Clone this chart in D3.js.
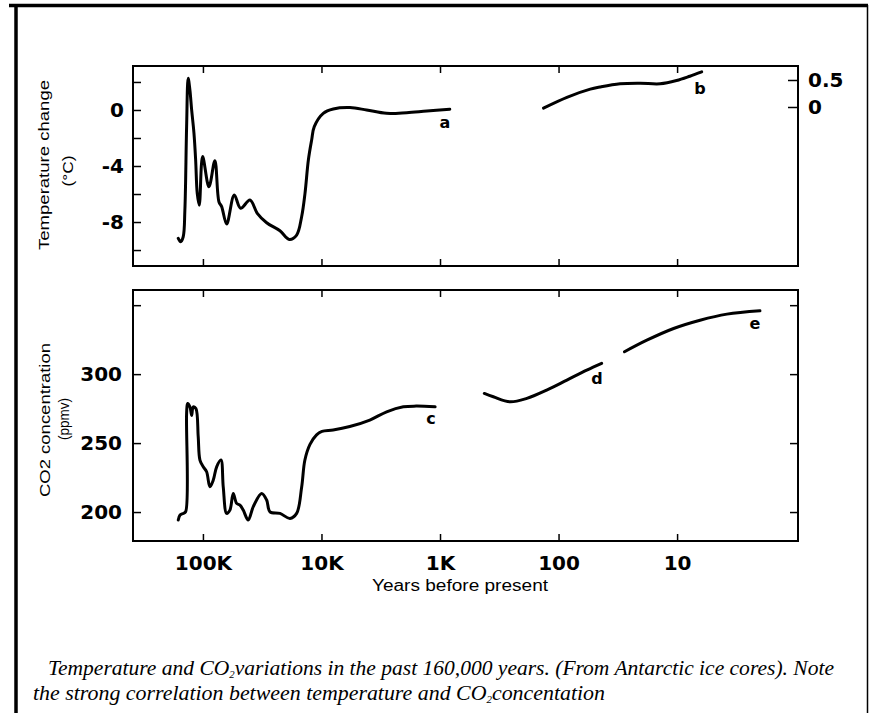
<!DOCTYPE html>
<html>
<head>
<meta charset="utf-8">
<script src="https://cdn.jsdelivr.net/npm/d3@7"></script>
<style>
  body { margin: 0; background: #fff; }
</style>
</head>
<body>
<div id="chart"></div>
<script>
// temperature, ice core (curve a), degrees C vs years before present
const tempYears = [161500, 154200, 146700, 142000, 137300, 133200, 128800, 124500, 119100, 115200, 111700, 107400,
    100600, 89000, 79300, 73300, 69500, 63100, 54400, 48100, 40100, 34800, 29000, 22400, 18700, 16200, 14700,
    13770, 12900, 12100, 11500, 9660, 7950, 5750, 4160, 2830, 1910, 1290, 827];
const tempValues = [-9.16, -9.4, -9.05, -7.14, -1.19, 2.26, 1.43, 0, -1.64, -3.57, -5.95, -6.8,
    -3.33, -5.48, -3.62, -6.55, -6.9, -8.14, -6.07, -7.02, -6.43, -7.38, -8.05, -8.62, -9.24, -8.93, -7.62,
    -5.95, -3.57, -2.14, -1.19, -0.24, 0.07, 0.17, 0, -0.24, -0.19, -0.07, 0.05];

// recent temperature (curve b), right hand scale
const recentTempYears = [134, 85, 54, 44.7, 30.3, 20.5, 13.9, 10.1, 7.8, 6.2];
const recentTempValues = [-0.02, 0.18, 0.33, 0.37, 0.43, 0.44, 0.43, 0.49, 0.57, 0.65];

// CO2 ice core (curve c), ppmv
const co2Years = [161500, 156000, 146700, 140000, 137300, 134700, 128700, 124500, 120700, 114600, 109600, 106000,
    99400, 93100, 87300, 81900, 76600, 70500, 67400, 63100, 59200, 55500, 51980, 48700, 45700, 41500, 37600,
    32000, 29000, 27200, 22400, 18450, 16200, 14700, 13800, 12500, 11000, 9900, 7970, 5770, 3910, 2820, 2040,
    1590, 1100];
const co2Values = [194.2, 197.8, 199, 200.2, 271.5, 278.7, 276.3, 270, 276.3, 275, 254.6, 237.7,
    232.8, 229.2, 218.3, 223, 232.8, 237.7, 218.3, 199, 201.4, 213.5, 206.3, 205, 201.4, 194.2, 203.9,
    213.5, 208.7, 200.2, 199, 195.4, 199, 218, 237.7, 249, 256, 258.5, 259.5, 262, 266.7, 272.7, 276.3,
    276.8, 276.3];

// CO2 historical (curve d) and atmospheric (curve e)
const co2dYears = [423, 355, 257, 185, 126, 85, 57.8, 43.3];
const co2dValues = [286, 283.6, 279.9, 282.4, 288.4, 295.7, 302.9, 307.8];
const co2eYears = [27.8, 18.0, 10.7, 6.4, 3.8, 2.0];
const co2eValues = [316.2, 324.6, 333.1, 339.1, 343.5, 345.9];

// axis ticks
const yearTicks = [100000, 10000, 1000, 100, 10];
const yearTickLabels = ["100K", "10K", "1K", "100", "10"];
const tempTicks = [2, 0, -2, -4, -6, -8, -10];
const tempTickLabels = [0, -4, -8];
const recentTempTicks = [0.5, 0];
const co2Ticks = [200, 250, 300, 350];
const co2TickLabels = [200, 250, 300];

// curve letters: [letter, years, value]
const topLetters = [["a", 908, -0.86]];
const topRightLetters = [["b", 6.4, 0.35]];
const bottomLetters = [["c", 1190, 268], ["d", 47.3, 297], ["e", 2.2, 337]];

const width = 869, height = 713;
const plotLeft = 133, plotRight = 798;
const topPanel = {top: 66, height: 200};
const botPanel = {top: 290, height: 251};
const sans = "'Liberation Sans', Arial, sans-serif";
const tickFont = "'DejaVu Sans', Verdana, sans-serif";
const serif = "'Liberation Serif'";

const svg = d3.select("#chart").append("svg")
    .attr("width", width)
    .attr("height", height)
    .style("font-family", sans);

// page frame
svg.append("line").attr("x1", 9).attr("x2", 868).attr("y1", 5.5).attr("y2", 5.5)
    .attr("stroke", "#000").attr("stroke-width", 3.5);
svg.append("line").attr("x1", 16).attr("x2", 16).attr("y1", 5).attr("y2", height)
    .attr("stroke", "#000").attr("stroke-width", 3.5);
svg.append("line").attr("x1", 867.5).attr("x2", 867.5).attr("y1", 5).attr("y2", height)
    .attr("stroke", "#000").attr("stroke-width", 1.5);

const x = d3.scaleLog()
    .domain([389000, 0.955])
    .range([plotLeft, plotRight]);

const yTemp = d3.scaleLinear()
    .domain([-11.14, 3.14])
    .range([topPanel.top + topPanel.height, topPanel.top]);
const yRecent = d3.scaleLinear()
    .domain([-2.944, 0.759])
    .range([topPanel.top + topPanel.height, topPanel.top]);
const yCo2 = d3.scaleLinear()
    .domain([179, 361])
    .range([botPanel.top + botPanel.height, botPanel.top]);

function drawPanel(p) {
    svg.append("rect")
        .attr("x", plotLeft).attr("y", p.top)
        .attr("width", plotRight - plotLeft).attr("height", p.height)
        .attr("fill", "none").attr("stroke", "#000").attr("stroke-width", 2);
    // year ticks on top and bottom edges, pointing inward
    svg.append("g")
        .attr("transform", `translate(0,${p.top})`)
        .call(d3.axisTop(x).tickValues(yearTicks).tickSize(-7).tickFormat(""))
        .call(g => g.select(".domain").remove())
        .call(g => g.selectAll("line").attr("stroke-width", 1.5));
    svg.append("g")
        .attr("transform", `translate(0,${p.top + p.height})`)
        .call(d3.axisBottom(x).tickValues(yearTicks).tickSize(-7).tickFormat(""))
        .call(g => g.select(".domain").remove())
        .call(g => g.selectAll("line").attr("stroke-width", 1.5));
}
drawPanel(topPanel);
drawPanel(botPanel);

function styleTicks(g, size) {
    g.select(".domain").remove();
    g.selectAll("line").attr("stroke-width", 1.5);
    g.selectAll("text")
        .style("font-family", tickFont)
        .style("font-size", size + "px")
        .style("font-weight", "bold")
        .attr("fill", "#000");
}

// temperature axis (left)
svg.append("g")
    .attr("transform", `translate(${plotLeft},0)`)
    .call(d3.axisLeft(yTemp).tickValues(tempTicks).tickSize(-8).tickPadding(9)
        .tickFormat(d => tempTickLabels.includes(d) ? (d < 0 ? "-" + Math.abs(d) : d) : ""))
    .call(g => styleTicks(g, 20));

// recent temperature axis (right)
svg.append("g")
    .attr("transform", `translate(${plotRight},0)`)
    .call(d3.axisRight(yRecent).tickValues(recentTempTicks).tickSize(-10).tickPadding(10)
        .tickFormat(d => d))
    .call(g => styleTicks(g, 20));

// CO2 axes
svg.append("g")
    .attr("transform", `translate(${plotLeft},0)`)
    .call(d3.axisLeft(yCo2).tickValues(co2Ticks).tickSize(-8).tickPadding(11)
        .tickFormat(d => co2TickLabels.includes(d) ? d : ""))
    .call(g => styleTicks(g, 20));
svg.append("g")
    .attr("transform", `translate(${plotRight},0)`)
    .call(d3.axisRight(yCo2).tickValues(co2Ticks).tickSize(-8).tickFormat(""))
    .call(g => styleTicks(g, 20));

// year labels under the bottom panel
svg.append("g")
    .attr("transform", `translate(0,${botPanel.top + botPanel.height})`)
    .call(d3.axisBottom(x).tickValues(yearTicks).tickSize(0).tickPadding(15)
        .tickFormat((d, i) => yearTickLabels[i]))
    .call(g => styleTicks(g, 20));

svg.append("text")
    .attr("x", 460).attr("y", 591)
    .attr("text-anchor", "middle")
    .style("font-size", "16px")
    .attr("textLength", 176)
    .attr("lengthAdjust", "spacingAndGlyphs")
    .text("Years before present");

// axis titles
function vTitle(text, cx, cy, len, size) {
    svg.append("text")
        .attr("transform", `translate(${cx},${cy}) rotate(-90)`)
        .attr("text-anchor", "middle")
        .attr("dominant-baseline", "central")
        .style("font-size", size + "px")
        .attr("textLength", len)
        .attr("lengthAdjust", "spacingAndGlyphs")
        .text(text);
}
vTitle("Temperature change", 43, 165, 170, 15);
vTitle("(°C)", 67, 171, 31, 15);
vTitle("CO2 concentration", 44, 420, 154, 15);
vTitle("(ppmv)", 63, 419, 42, 15);

// curves
function curve(years, values, yScale) {
    const line = d3.line()
        .x(d => x(d[0]))
        .y(d => yScale(d[1]))
        .curve(d3.curveCatmullRom.alpha(0.5));
    svg.append("path")
        .datum(d3.zip(years, values))
        .attr("fill", "none")
        .attr("stroke", "#000")
        .attr("stroke-width", 3)
        .attr("stroke-linecap", "round")
        .attr("stroke-linejoin", "round")
        .attr("d", line);
}
curve(tempYears, tempValues, yTemp);
curve(recentTempYears, recentTempValues, yRecent);
curve(co2Years, co2Values, yCo2);
curve(co2dYears, co2dValues, yCo2);
curve(co2eYears, co2eValues, yCo2);

function letters(list, yScale) {
    svg.selectAll(null)
        .data(list)
        .join("text")
        .attr("x", d => x(d[1]))
        .attr("y", d => yScale(d[2]))
        .attr("text-anchor", "middle")
        .attr("dominant-baseline", "central")
        .style("font-family", tickFont)
        .style("font-size", "16px")
        .style("font-weight", "bold")
        .text(d => d[0]);
}
letters(topLetters, yTemp);
letters(topRightLetters, yRecent);
letters(bottomLetters, yCo2);

// caption
function caption(xPos, yPos, len, before, after) {
    const t = svg.append("text")
        .attr("x", xPos).attr("y", yPos)
        .style("font-family", serif)
        .style("font-style", "italic")
        .style("font-size", "20px")
        .attr("textLength", len)
        .attr("lengthAdjust", "spacingAndGlyphs");
    t.append("tspan").text(before);
    t.append("tspan").style("font-size", "10px").attr("dy", 3).text("2");
    t.append("tspan").attr("dy", -3).text(after);
}
caption(48, 675, 786, "Temperature  and CO", "variations in the past 160,000 years. (From Antarctic ice cores). Note");
caption(33, 700, 572, "the  strong  correlation  between  temperature  and  CO", "concentation");
</script>
</body>
</html>
